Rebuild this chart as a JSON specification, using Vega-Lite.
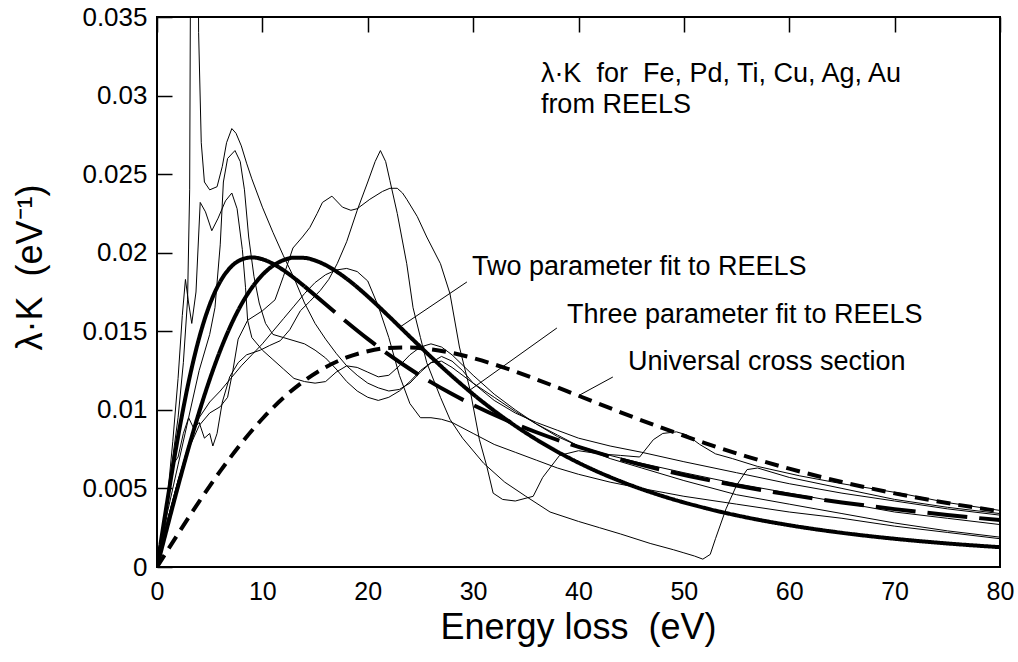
{
  "$schema": "https://vega.github.io/schema/vega-lite/v6.json",
  "width": 843,
  "height": 550,
  "autosize": "none",
  "padding": {"left": 157, "top": 17, "right": 18, "bottom": 95},
  "background": "white",
  "config": {
    "view": {"stroke": "black", "strokeWidth": 2},
    "font": "Liberation Sans",
    "axis": {"domain": false, "ticks": false, "grid": true, "gridColor": "#000000", "gridOpacity": 1, "gridWidth": 1.5, "labelColor": "black", "titleColor": "black", "titleFontWeight": "normal", "zindex": 1}
  },
  "resolve": {"axis": {"x": "independent", "y": "independent"}},
  "datasets": {
    "thin": [
      {"s":"Ti","E":0,"v":0},{"s":"Ti","E":0.5,"v":0.0025},{"s":"Ti","E":1,"v":0.004},{"s":"Ti","E":1.5,"v":0.0065},{"s":"Ti","E":2,"v":0.007},{"s":"Ti","E":2.5,"v":0.0085},{"s":"Ti","E":3,"v":0.0095},{"s":"Ti","E":3.5,"v":0.0088},{"s":"Ti","E":4,"v":0.0092},{"s":"Ti","E":4.5,"v":0.0082},{"s":"Ti","E":5,"v":0.0085},{"s":"Ti","E":5.3,"v":0.0077},{"s":"Ti","E":5.7,"v":0.0085},{"s":"Ti","E":6.2,"v":0.0105},{"s":"Ti","E":6.9,"v":0.0121},{"s":"Ti","E":7.7,"v":0.013},{"s":"Ti","E":8.5,"v":0.0135},{"s":"Ti","E":9.8,"v":0.0138},{"s":"Ti","E":10.7,"v":0.0141},{"s":"Ti","E":11.7,"v":0.0144},{"s":"Ti","E":12.6,"v":0.0151},{"s":"Ti","E":13.6,"v":0.0163},{"s":"Ti","E":14.5,"v":0.0169},{"s":"Ti","E":15.5,"v":0.0176},{"s":"Ti","E":16.3,"v":0.0183},{"s":"Ti","E":17.1,"v":0.0193},{"s":"Ti","E":18,"v":0.0207},{"s":"Ti","E":19,"v":0.0227},{"s":"Ti","E":20,"v":0.0245},{"s":"Ti","E":20.7,"v":0.0258},{"s":"Ti","E":21.2,"v":0.0265},{"s":"Ti","E":21.7,"v":0.0258},{"s":"Ti","E":22.1,"v":0.0246},{"s":"Ti","E":22.8,"v":0.0225},{"s":"Ti","E":23.7,"v":0.0193},{"s":"Ti","E":24.3,"v":0.0165},{"s":"Ti","E":25,"v":0.0146},{"s":"Ti","E":25.6,"v":0.013},{"s":"Ti","E":26.9,"v":0.0108},{"s":"Ti","E":27.8,"v":0.0094},{"s":"Ti","E":29,"v":0.0082},{"s":"Ti","E":31,"v":0.0066},{"s":"Ti","E":33,"v":0.0054},{"s":"Ti","E":35,"v":0.0045},{"s":"Ti","E":37.3,"v":0.0035},{"s":"Ti","E":40,"v":0.0029},{"s":"Ti","E":42,"v":0.0025},{"s":"Ti","E":44,"v":0.0021},{"s":"Ti","E":46.8,"v":0.0015},{"s":"Ti","E":49,"v":0.0011},{"s":"Ti","E":50,"v":0.0009},{"s":"Ti","E":51,"v":0.0007},{"s":"Ti","E":51.8,"v":0.0005},{"s":"Ti","E":52.5,"v":0.0008},{"s":"Ti","E":53,"v":0.0018},{"s":"Ti","E":54,"v":0.0037},{"s":"Ti","E":55,"v":0.0052},{"s":"Ti","E":56,"v":0.0062},{"s":"Ti","E":57,"v":0.0063},{"s":"Ti","E":60,"v":0.0057},{"s":"Ti","E":65,"v":0.005},{"s":"Ti","E":70,"v":0.0043},{"s":"Ti","E":75,"v":0.0038},{"s":"Ti","E":80,"v":0.0034},
      {"s":"Fe","E":0,"v":0},{"s":"Fe","E":0.5,"v":0.0015},{"s":"Fe","E":1,"v":0.003},{"s":"Fe","E":2,"v":0.0055},{"s":"Fe","E":3,"v":0.0075},{"s":"Fe","E":4,"v":0.009},{"s":"Fe","E":5,"v":0.0098},{"s":"Fe","E":6,"v":0.0102},{"s":"Fe","E":6.7,"v":0.0108},{"s":"Fe","E":7.2,"v":0.0125},{"s":"Fe","E":7.7,"v":0.0145},{"s":"Fe","E":8.6,"v":0.0157},{"s":"Fe","E":10,"v":0.0163},{"s":"Fe","E":11.2,"v":0.017},{"s":"Fe","E":12,"v":0.0185},{"s":"Fe","E":12.9,"v":0.0203},{"s":"Fe","E":13.8,"v":0.021},{"s":"Fe","E":14.5,"v":0.0216},{"s":"Fe","E":15.2,"v":0.0225},{"s":"Fe","E":15.7,"v":0.0232},{"s":"Fe","E":16.6,"v":0.0236},{"s":"Fe","E":17.6,"v":0.0229},{"s":"Fe","E":18.4,"v":0.0227},{"s":"Fe","E":19,"v":0.0228},{"s":"Fe","E":20.2,"v":0.0234},{"s":"Fe","E":21.4,"v":0.0239},{"s":"Fe","E":22.1,"v":0.0241},{"s":"Fe","E":22.8,"v":0.0241},{"s":"Fe","E":23.3,"v":0.0238},{"s":"Fe","E":23.7,"v":0.0234},{"s":"Fe","E":24.7,"v":0.0223},{"s":"Fe","E":25.6,"v":0.021},{"s":"Fe","E":26.9,"v":0.0193},{"s":"Fe","E":27.8,"v":0.0174},{"s":"Fe","E":28.7,"v":0.014},{"s":"Fe","E":29.7,"v":0.0113},{"s":"Fe","E":30.6,"v":0.0081},{"s":"Fe","E":31.3,"v":0.0064},{"s":"Fe","E":31.9,"v":0.0047},{"s":"Fe","E":32.8,"v":0.0043},{"s":"Fe","E":34,"v":0.0042},{"s":"Fe","E":35.7,"v":0.0045},{"s":"Fe","E":36.6,"v":0.0057},{"s":"Fe","E":38.2,"v":0.0071},{"s":"Fe","E":40,"v":0.0074},{"s":"Fe","E":42,"v":0.0072},{"s":"Fe","E":44,"v":0.0071},{"s":"Fe","E":45.8,"v":0.007},{"s":"Fe","E":47.1,"v":0.0081},{"s":"Fe","E":48,"v":0.0085},{"s":"Fe","E":49.3,"v":0.0086},{"s":"Fe","E":50.3,"v":0.0084},{"s":"Fe","E":51.5,"v":0.0078},{"s":"Fe","E":53,"v":0.0072},{"s":"Fe","E":54.6,"v":0.0069},{"s":"Fe","E":57,"v":0.0064},{"s":"Fe","E":61,"v":0.0058},{"s":"Fe","E":65,"v":0.0053},{"s":"Fe","E":70.5,"v":0.0047},{"s":"Fe","E":75,"v":0.0041},{"s":"Fe","E":80,"v":0.0036},
      {"s":"Ag","E":0,"v":0},{"s":"Ag","E":0.5,"v":0.002},{"s":"Ag","E":1,"v":0.0045},{"s":"Ag","E":1.5,"v":0.007},{"s":"Ag","E":2,"v":0.0095},{"s":"Ag","E":2.5,"v":0.013},{"s":"Ag","E":2.9,"v":0.017},{"s":"Ag","E":3.1,"v":0.024},{"s":"Ag","E":3.25,"v":0.05},{"s":"Ag","E":3.8,"v":0.05},{"s":"Ag","E":3.95,"v":0.034},{"s":"Ag","E":4.2,"v":0.027},{"s":"Ag","E":4.5,"v":0.0245},{"s":"Ag","E":5,"v":0.024},{"s":"Ag","E":5.7,"v":0.0242},{"s":"Ag","E":6.2,"v":0.0255},{"s":"Ag","E":6.6,"v":0.027},{"s":"Ag","E":7.1,"v":0.0279},{"s":"Ag","E":7.5,"v":0.0276},{"s":"Ag","E":8,"v":0.0268},{"s":"Ag","E":8.5,"v":0.0257},{"s":"Ag","E":9,"v":0.0247},{"s":"Ag","E":10,"v":0.0229},{"s":"Ag","E":11,"v":0.0213},{"s":"Ag","E":12,"v":0.0198},{"s":"Ag","E":13,"v":0.0184},{"s":"Ag","E":14,"v":0.0168},{"s":"Ag","E":15,"v":0.0155},{"s":"Ag","E":16,"v":0.0145},{"s":"Ag","E":17,"v":0.0136},{"s":"Ag","E":18,"v":0.0128},{"s":"Ag","E":19,"v":0.0122},{"s":"Ag","E":20,"v":0.0117},{"s":"Ag","E":21,"v":0.0114},{"s":"Ag","E":22,"v":0.0112},{"s":"Ag","E":23,"v":0.0113},{"s":"Ag","E":24,"v":0.0117},{"s":"Ag","E":25,"v":0.0124},{"s":"Ag","E":26,"v":0.013},{"s":"Ag","E":27,"v":0.0134},{"s":"Ag","E":28,"v":0.0131},{"s":"Ag","E":29,"v":0.0125},{"s":"Ag","E":30,"v":0.0117},{"s":"Ag","E":32,"v":0.0106},{"s":"Ag","E":34,"v":0.0098},{"s":"Ag","E":36,"v":0.0092},{"s":"Ag","E":38,"v":0.0087},{"s":"Ag","E":40,"v":0.0082},{"s":"Ag","E":43,"v":0.0077},{"s":"Ag","E":46,"v":0.0073},{"s":"Ag","E":50,"v":0.0067},{"s":"Ag","E":55,"v":0.006},{"s":"Ag","E":60,"v":0.0053},{"s":"Ag","E":65,"v":0.0047},{"s":"Ag","E":70,"v":0.0042},{"s":"Ag","E":75,"v":0.0037},{"s":"Ag","E":80,"v":0.0033},
      {"s":"Cu","E":0,"v":0},{"s":"Cu","E":0.5,"v":0.0015},{"s":"Cu","E":1,"v":0.0035},{"s":"Cu","E":2,"v":0.0065},{"s":"Cu","E":3,"v":0.0095},{"s":"Cu","E":4,"v":0.0125},{"s":"Cu","E":5,"v":0.0148},{"s":"Cu","E":5.5,"v":0.0165},{"s":"Cu","E":6,"v":0.0205},{"s":"Cu","E":6.3,"v":0.0245},{"s":"Cu","E":6.7,"v":0.026},{"s":"Cu","E":7.4,"v":0.0265},{"s":"Cu","E":7.9,"v":0.0258},{"s":"Cu","E":8.3,"v":0.024},{"s":"Cu","E":8.7,"v":0.021},{"s":"Cu","E":9.2,"v":0.0185},{"s":"Cu","E":9.7,"v":0.0168},{"s":"Cu","E":10.3,"v":0.0155},{"s":"Cu","E":11,"v":0.0148},{"s":"Cu","E":12,"v":0.0146},{"s":"Cu","E":13,"v":0.0144},{"s":"Cu","E":14,"v":0.0142},{"s":"Cu","E":15,"v":0.0138},{"s":"Cu","E":16,"v":0.0133},{"s":"Cu","E":17,"v":0.0126},{"s":"Cu","E":18,"v":0.0118},{"s":"Cu","E":19,"v":0.0112},{"s":"Cu","E":20,"v":0.0108},{"s":"Cu","E":21,"v":0.0106},{"s":"Cu","E":22,"v":0.0108},{"s":"Cu","E":23,"v":0.0112},{"s":"Cu","E":24,"v":0.0118},{"s":"Cu","E":25,"v":0.0125},{"s":"Cu","E":26,"v":0.013},{"s":"Cu","E":27,"v":0.0131},{"s":"Cu","E":28,"v":0.0127},{"s":"Cu","E":30,"v":0.0117},{"s":"Cu","E":32,"v":0.0108},{"s":"Cu","E":34,"v":0.0099},{"s":"Cu","E":36,"v":0.0091},{"s":"Cu","E":38,"v":0.0083},{"s":"Cu","E":40,"v":0.0077},{"s":"Cu","E":43,"v":0.0071},{"s":"Cu","E":46,"v":0.0066},{"s":"Cu","E":50,"v":0.006},{"s":"Cu","E":55,"v":0.0053},{"s":"Cu","E":60,"v":0.0047},{"s":"Cu","E":65,"v":0.0041},{"s":"Cu","E":70,"v":0.0035},{"s":"Cu","E":75,"v":0.0031},{"s":"Cu","E":80,"v":0.0027},
      {"s":"Au","E":0,"v":0},{"s":"Au","E":0.5,"v":0.002},{"s":"Au","E":1,"v":0.0045},{"s":"Au","E":1.5,"v":0.008},{"s":"Au","E":2,"v":0.012},{"s":"Au","E":2.4,"v":0.016},{"s":"Au","E":2.7,"v":0.0183},{"s":"Au","E":3,"v":0.0168},{"s":"Au","E":3.3,"v":0.0155},{"s":"Au","E":3.7,"v":0.0175},{"s":"Au","E":4.1,"v":0.0232},{"s":"Au","E":4.6,"v":0.0226},{"s":"Au","E":5.2,"v":0.0214},{"s":"Au","E":5.8,"v":0.0222},{"s":"Au","E":6.5,"v":0.0233},{"s":"Au","E":7.1,"v":0.0238},{"s":"Au","E":7.6,"v":0.0228},{"s":"Au","E":8.1,"v":0.0202},{"s":"Au","E":8.4,"v":0.0178},{"s":"Au","E":8.6,"v":0.0157},{"s":"Au","E":9,"v":0.0146},{"s":"Au","E":10,"v":0.0138},{"s":"Au","E":11,"v":0.0132},{"s":"Au","E":12,"v":0.0126},{"s":"Au","E":13,"v":0.012},{"s":"Au","E":14,"v":0.0118},{"s":"Au","E":15,"v":0.0117},{"s":"Au","E":16,"v":0.0118},{"s":"Au","E":17,"v":0.0124},{"s":"Au","E":18,"v":0.0128},{"s":"Au","E":19,"v":0.0127},{"s":"Au","E":20,"v":0.0124},{"s":"Au","E":21,"v":0.0121},{"s":"Au","E":22,"v":0.0122},{"s":"Au","E":23,"v":0.0128},{"s":"Au","E":24,"v":0.0135},{"s":"Au","E":25,"v":0.014},{"s":"Au","E":26,"v":0.0142},{"s":"Au","E":27,"v":0.014},{"s":"Au","E":28,"v":0.0135},{"s":"Au","E":30,"v":0.0122},{"s":"Au","E":32,"v":0.011},{"s":"Au","E":34,"v":0.01},{"s":"Au","E":36,"v":0.0091},{"s":"Au","E":38,"v":0.0084},{"s":"Au","E":40,"v":0.0077},{"s":"Au","E":43,"v":0.0069},{"s":"Au","E":46,"v":0.0063},{"s":"Au","E":50,"v":0.0055},{"s":"Au","E":55,"v":0.0046},{"s":"Au","E":60,"v":0.004},{"s":"Au","E":65,"v":0.0034},{"s":"Au","E":70,"v":0.0028},{"s":"Au","E":75,"v":0.0023},{"s":"Au","E":80,"v":0.0019},
      {"s":"Pd","E":0,"v":0},{"s":"Pd","E":0.5,"v":0.0015},{"s":"Pd","E":1,"v":0.003},{"s":"Pd","E":2,"v":0.0055},{"s":"Pd","E":3,"v":0.0078},{"s":"Pd","E":4,"v":0.0095},{"s":"Pd","E":5,"v":0.0105},{"s":"Pd","E":6,"v":0.0112},{"s":"Pd","E":7,"v":0.012},{"s":"Pd","E":8,"v":0.0128},{"s":"Pd","E":9,"v":0.0135},{"s":"Pd","E":10,"v":0.0142},{"s":"Pd","E":11,"v":0.015},{"s":"Pd","E":12,"v":0.0158},{"s":"Pd","E":13,"v":0.0166},{"s":"Pd","E":14,"v":0.0174},{"s":"Pd","E":15,"v":0.0181},{"s":"Pd","E":16,"v":0.0186},{"s":"Pd","E":17,"v":0.0189},{"s":"Pd","E":18,"v":0.019},{"s":"Pd","E":19,"v":0.0188},{"s":"Pd","E":20,"v":0.0182},{"s":"Pd","E":21,"v":0.0166},{"s":"Pd","E":22,"v":0.0146},{"s":"Pd","E":23,"v":0.0122},{"s":"Pd","E":24,"v":0.0104},{"s":"Pd","E":25,"v":0.0095},{"s":"Pd","E":26,"v":0.0095},{"s":"Pd","E":27,"v":0.0094},{"s":"Pd","E":28,"v":0.0092},{"s":"Pd","E":30,"v":0.0085},{"s":"Pd","E":32,"v":0.0078},{"s":"Pd","E":34,"v":0.0073},{"s":"Pd","E":36,"v":0.0068},{"s":"Pd","E":38,"v":0.0063},{"s":"Pd","E":40,"v":0.0059},{"s":"Pd","E":43,"v":0.0054},{"s":"Pd","E":46,"v":0.005},{"s":"Pd","E":50,"v":0.0045},{"s":"Pd","E":55,"v":0.004},{"s":"Pd","E":60,"v":0.0035},{"s":"Pd","E":65,"v":0.0031},{"s":"Pd","E":70,"v":0.0026},{"s":"Pd","E":75,"v":0.0022},{"s":"Pd","E":80,"v":0.0018}
    ],
    "fits": [
      {"s":"two","E":0,"v":0},{"s":"two","E":1,"v":0.002603},{"s":"two","E":2,"v":0.005149},{"s":"two","E":3,"v":0.007583},{"s":"two","E":4,"v":0.009857},{"s":"two","E":5,"v":0.011931},{"s":"two","E":6,"v":0.013775},{"s":"two","E":7,"v":0.015368},{"s":"two","E":8,"v":0.016701},{"s":"two","E":9,"v":0.017772},{"s":"two","E":10,"v":0.01859},{"s":"two","E":11,"v":0.019168},{"s":"two","E":12,"v":0.019526},{"s":"two","E":13,"v":0.019686},{"s":"two","E":14,"v":0.019671},{"s":"two","E":15,"v":0.019506},{"s":"two","E":16,"v":0.019216},{"s":"two","E":18,"v":0.018345},{"s":"two","E":20,"v":0.017218},{"s":"two","E":22,"v":0.015957},{"s":"two","E":24,"v":0.014653},{"s":"two","E":26,"v":0.013369},{"s":"two","E":28,"v":0.012143},{"s":"two","E":30,"v":0.010997},{"s":"two","E":33,"v":0.009451},{"s":"two","E":36,"v":0.008115},{"s":"two","E":40,"v":0.006636},{"s":"two","E":44,"v":0.005452},{"s":"two","E":48,"v":0.004508},{"s":"two","E":52,"v":0.003753},{"s":"two","E":56,"v":0.003147},{"s":"two","E":60,"v":0.002659},{"s":"two","E":65,"v":0.002174},{"s":"two","E":70,"v":0.001796},{"s":"two","E":75,"v":0.001498},{"s":"two","E":80,"v":0.001261},
      {"s":"three_a","E":0,"v":0},{"s":"three_a","E":1,"v":0.004299},{"s":"three_a","E":2,"v":0.0083},{"s":"three_a","E":3,"v":0.011769},{"s":"three_a","E":4,"v":0.014575},{"s":"three_a","E":5,"v":0.016689},{"s":"three_a","E":6,"v":0.018161},{"s":"three_a","E":7,"v":0.019083},{"s":"three_a","E":8,"v":0.019561},{"s":"three_a","E":9,"v":0.0197},{"s":"three_a","E":10,"v":0.019588},{"s":"three_a","E":11,"v":0.019299},{"s":"three_a","E":12,"v":0.018887},{"s":"three_a","E":13,"v":0.018396},{"s":"three_a","E":14,"v":0.017858},
      {"s":"three_b","E":14,"v":0.017858},{"s":"three_b","E":16,"v":0.016721},{"s":"three_b","E":18,"v":0.015588},{"s":"three_b","E":20,"v":0.014512},{"s":"three_b","E":22,"v":0.013514},{"s":"three_b","E":24,"v":0.012598},{"s":"three_b","E":26,"v":0.011763},{"s":"three_b","E":28,"v":0.011003},{"s":"three_b","E":30,"v":0.01031},{"s":"three_b","E":33,"v":0.009384},{"s":"three_b","E":36,"v":0.008575},{"s":"three_b","E":40,"v":0.007644},{"s":"three_b","E":44,"v":0.006851},{"s":"three_b","E":48,"v":0.006169},{"s":"three_b","E":52,"v":0.005578},{"s":"three_b","E":56,"v":0.005061},{"s":"three_b","E":60,"v":0.004607},{"s":"three_b","E":65,"v":0.004111},{"s":"three_b","E":70,"v":0.003683},{"s":"three_b","E":75,"v":0.003311},{"s":"three_b","E":80,"v":0.002985},
      {"s":"univ","E":0,"v":0},{"s":"univ","E":1,"v":0.00106},{"s":"univ","E":2,"v":0.002113},{"s":"univ","E":3,"v":0.003151},{"s":"univ","E":4,"v":0.004165},{"s":"univ","E":5,"v":0.005151},{"s":"univ","E":6,"v":0.0061},{"s":"univ","E":8,"v":0.007869},{"s":"univ","E":10,"v":0.009434},{"s":"univ","E":12,"v":0.01077},{"s":"univ","E":14,"v":0.011864},{"s":"univ","E":16,"v":0.012716},{"s":"univ","E":18,"v":0.013333},{"s":"univ","E":20,"v":0.013733},{"s":"univ","E":22,"v":0.013937},{"s":"univ","E":24,"v":0.013969},{"s":"univ","E":26,"v":0.013856},{"s":"univ","E":28,"v":0.013624},{"s":"univ","E":30,"v":0.013296},{"s":"univ","E":33,"v":0.012672},{"s":"univ","E":36,"v":0.011945},{"s":"univ","E":40,"v":0.0109},{"s":"univ","E":44,"v":0.009845},{"s":"univ","E":48,"v":0.008831},{"s":"univ","E":52,"v":0.007887},{"s":"univ","E":56,"v":0.007027},{"s":"univ","E":60,"v":0.006256},{"s":"univ","E":65,"v":0.00541},{"s":"univ","E":70,"v":0.004686},{"s":"univ","E":75,"v":0.004069},{"s":"univ","E":80,"v":0.003544}
    ],
    "leaders": [
      {"E":29.41,"v":0.01814,"E2":23.06,"v2":0.01527},
      {"E":37.95,"v":0.01521,"E2":29.7,"v2":0.01126},
      {"E":43.26,"v":0.01209,"E2":40.13,"v2":0.01095}
    ],
    "labels": [
      {"E":36.43,"v":0.03087,"t":"λ·K\u00a0 for\u00a0 Fe, Pd, Ti, Cu, Ag, Au"},
      {"E":36.43,"v":0.02889,"t":"from REELS"},
      {"E":29.89,"v":0.01858,"t":"Two parameter fit to REELS"},
      {"E":38.9,"v":0.01553,"t":"Three parameter fit to REELS"},
      {"E":44.69,"v":0.01254,"t":"Universal cross section"}
    ]
  },
  "layer": [
    {
      "data": {"name": "thin"},
      "mark": {"type": "line", "stroke": "black", "strokeWidth": 1, "clip": true},
      "encoding": {
        "x": {
          "field": "E", "type": "quantitative",
          "scale": {"domain": [0, 80], "nice": false, "zero": false},
          "axis": {
            "orient": "bottom",
            "title": "Energy loss\u00a0 (eV)",
            "titleFontSize": 36, "titleFont": "Liberation Sans",
            "titleX": 421, "titleY": 60, "titleBaseline": "middle", "titleAlign": "center",
            "values": [0,10,20,30,40,50,60,70,80],
            "format": "d",
            "labelFontSize": 25, "labelFont": "Liberation Sans Narrow, Liberation Sans", "labelPadding": 12,
            "gridDash": [15, 2000],
            "labelFlush": false, "labelOverlap": false
          }
        },
        "y": {
          "field": "v", "type": "quantitative",
          "scale": {"domain": [0, 0.035], "nice": false, "zero": false},
          "axis": {
            "orient": "left",
            "title": "λ·K\u00a0 (eV⁻¹)",
            "titleFontSize": 36, "titleFont": "Liberation Sans",
            "titleX": -127, "titleY": 250, "titleAngle": -90, "titleBaseline": "middle", "titleAlign": "center",
            "values": [0,0.005,0.01,0.015,0.02,0.025,0.03,0.035],
            "format": "~g",
            "labelFontSize": 26, "labelFont": "Liberation Sans", "labelPadding": 10,
            "gridDash": [15, 2000],
            "labelFlush": false, "labelOverlap": false
          }
        },
        "detail": {"field": "s", "type": "nominal"}
      }
    },
    {
      "data": {"name": "fits"},
      "mark": {"type": "line", "stroke": "black", "strokeWidth": 4, "clip": true, "interpolate": "monotone", "strokeCap": "butt"},
      "encoding": {
        "x": {"field": "E", "type": "quantitative", "axis": null},
        "y": {"field": "v", "type": "quantitative", "axis": null},
        "detail": {"field": "s", "type": "nominal"},
        "strokeDash": {
          "field": "s", "type": "nominal",
          "scale": {"domain": ["two", "three_a", "three_b", "univ"], "range": [[1, 0], [1, 0], [40, 12], [14, 8]]},
          "legend": null
        }
      }
    },
    {
      "data": {"name": "leaders"},
      "mark": {"type": "rule", "stroke": "black", "strokeWidth": 1},
      "encoding": {
        "x": {
          "field": "E", "type": "quantitative",
          "axis": {"orient": "bottom", "values": [5,15,25,35,45,55,65,75], "labels": false, "title": null, "gridDash": [9, 2000]}
        },
        "y": {
          "field": "v", "type": "quantitative",
          "axis": {"orient": "left", "values": [0.0025,0.0075,0.0125,0.0175,0.0225,0.0275,0.0325], "labels": false, "title": null, "gridDash": [8, 2000]}
        },
        "x2": {"field": "E2"}, "y2": {"field": "v2"}
      }
    },
    {
      "data": {"name": "labels"},
      "mark": {"type": "text", "align": "left", "baseline": "alphabetic", "fontSize": 27, "font": "Liberation Sans", "color": "black"},
      "encoding": {
        "x": {"field": "E", "type": "quantitative", "axis": null},
        "y": {"field": "v", "type": "quantitative", "axis": null},
        "text": {"field": "t", "type": "nominal"}
      }
    }
  ]
}
